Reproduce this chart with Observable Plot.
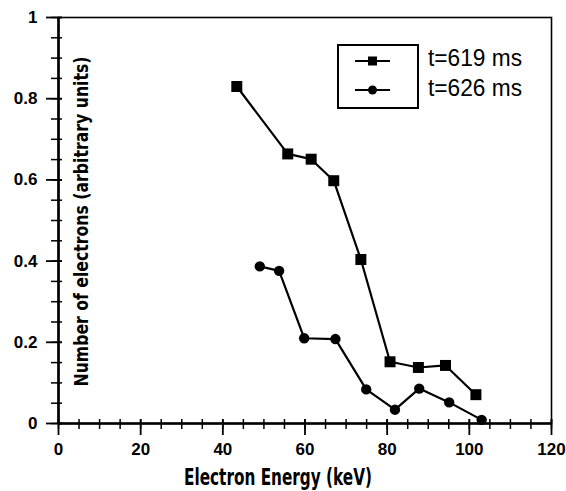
<!DOCTYPE html>
<html>
<head>
<meta charset="utf-8">
<script src="https://cdn.jsdelivr.net/npm/d3@7"></script>
<script src="https://cdn.jsdelivr.net/npm/@observablehq/plot@0.6"></script>
<style>
  html, body { margin: 0; padding: 0; background: #fff; }
</style>
</head>
<body>
<div id="chart"></div>
<script>
const energy619 = [43.4, 55.8, 61.5, 67.0, 73.6, 80.7, 87.6, 94.2, 101.6];
const count619  = [0.830, 0.664, 0.651, 0.598, 0.404, 0.152, 0.138, 0.143, 0.071];
const energy626 = [49.0, 53.7, 59.8, 67.4, 74.9, 81.9, 87.8, 95.1, 103.0];
const count626  = [0.387, 0.376, 0.210, 0.208, 0.084, 0.034, 0.086, 0.052, 0.009];

const seriesNames = ["t=619 ms", "t=626 ms"];
const xMajorTicks = [0, 20, 40, 60, 80, 100, 120];
const xMinorTicks = d3.range(0, 121, 5);
const yMajorTicks = [0, 0.2, 0.4, 0.6, 0.8, 1];
const yMinorTicks = d3.range(0, 21).map(i => i / 20);
const xLabel = "Electron Energy (keV)";
const yLabel = "Number of electrons (arbitrary units)";

const data619 = energy619.map((e, i) => ({ e, n: count619[i] }));
const data626 = energy626.map((e, i) => ({ e, n: count626[i] }));

const FONT = "'DejaVu Sans', sans-serif";
const TICKFONT = "'Liberation Sans', 'DejaVu Sans', sans-serif";

const chart = Plot.plot({
  width: 566,
  height: 491,
  marginLeft: 58,
  marginRight: 15,
  marginTop: 17,
  marginBottom: 68,
  style: { fontFamily: TICKFONT, fontSize: "17px", fontWeight: "bold" },
  x: { domain: [0, 120] },
  y: { domain: [0, 1] },
  marks: [
    Plot.frame({ stroke: "black", strokeWidth: 1.6 }),
    Plot.ruleX(xMinorTicks, { x: d => d, y1: 0, y2: 0, insetTop: -4, insetBottom: -6, stroke: "black", strokeWidth: 1.5 }),
    Plot.ruleX(xMajorTicks, { x: d => d, y1: 0, y2: 0, insetTop: -4, insetBottom: -12, stroke: "black", strokeWidth: 1.8 }),
    Plot.ruleY(yMinorTicks, { y: d => d, x1: 0, x2: 0, insetLeft: -7, insetRight: -4, stroke: "black", strokeWidth: 1.5 }),
    Plot.ruleY(yMajorTicks, { y: d => d, x1: 0, x2: 0, insetLeft: -12, insetRight: -4, stroke: "black", strokeWidth: 1.8 }),
    Plot.axisX({ ticks: xMajorTicks, tickSize: 0, tickPadding: 19, label: null, tickFormat: d => String(d) }),
    Plot.axisY({ ticks: yMajorTicks, tickSize: 0, tickPadding: 21, label: null, tickFormat: d => String(d) }),
    Plot.ruleX([0], { stroke: "black", strokeWidth: 2.6 }),
    Plot.ruleY([0], { stroke: "black", strokeWidth: 2.6 }),
    Plot.line(data619, { x: "e", y: "n", stroke: "black", strokeWidth: 2.2 }),
    Plot.line(data626, { x: "e", y: "n", stroke: "black", strokeWidth: 2.2 }),
    Plot.dot(data619, { x: "e", y: "n", symbol: "square", r: 6.2, fill: "black", stroke: "none" }),
    Plot.dot(data626, { x: "e", y: "n", symbol: "circle", r: 5.2, fill: "black", stroke: "none" })
  ]
});

const svg = d3.select(chart);

// axis titles
svg.append("text")
  .attr("x", 278).attr("y", 485)
  .attr("text-anchor", "middle")
  .attr("font-family", FONT).attr("font-size", 23).attr("font-weight", "bold")
  .attr("textLength", 188).attr("lengthAdjust", "spacingAndGlyphs")
  .text(xLabel);

svg.append("text")
  .attr("transform", "translate(88,221.5) rotate(-90)")
  .attr("text-anchor", "middle")
  .attr("font-family", FONT).attr("font-size", 19).attr("font-weight", "bold")
  .attr("textLength", 330).attr("lengthAdjust", "spacingAndGlyphs")
  .text(yLabel);

// legend
const lg = svg.append("g");
lg.append("rect").attr("x", 338).attr("y", 45).attr("width", 80).attr("height", 63)
  .attr("fill", "none").attr("stroke", "black").attr("stroke-width", 2);
const rows = [61, 90];
rows.forEach((yy, i) => {
  lg.append("line").attr("x1", 355).attr("x2", 390).attr("y1", yy).attr("y2", yy)
    .attr("stroke", "black").attr("stroke-width", 2);
  if (i === 0) {
    lg.append("rect").attr("x", 368).attr("y", yy - 4.5).attr("width", 9).attr("height", 9).attr("fill", "black");
  } else {
    lg.append("circle").attr("cx", 372.5).attr("cy", yy).attr("r", 4.5).attr("fill", "black");
  }
  lg.append("text").attr("x", 428).attr("y", yy + 5 + (i === 0 ? 0 : 1))
    .attr("text-anchor", "start")
    .attr("font-family", "'Liberation Sans', sans-serif").attr("font-size", 24).attr("font-weight", "normal")
    .attr("textLength", 94).attr("lengthAdjust", "spacingAndGlyphs")
    .text(seriesNames[i]);
});

document.getElementById("chart").appendChild(chart);
</script>
</body>
</html>
